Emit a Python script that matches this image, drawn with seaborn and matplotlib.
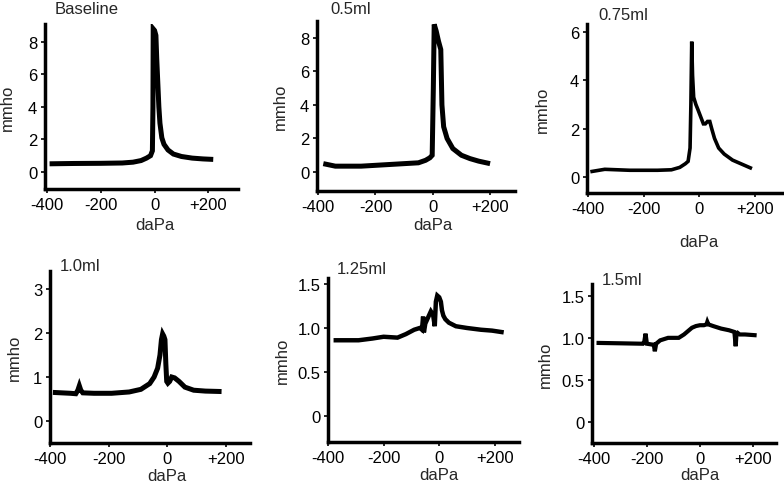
import matplotlib
matplotlib.use("Agg")
import matplotlib.pyplot as plt
import seaborn as sns
import pandas as pd

# ---- data (pressure daPa, admittance mmho) ----
titles = ["Baseline", "0.5ml", "0.75ml", "1.0ml", "1.25ml", "1.5ml"]

x_base = [-390, -300, -200, -120, -80, -50, -30, -15, -8, -6, -5, 0, 5, 8, 12, 16, 20, 27, 35, 50, 70, 100, 140, 180, 218]
y_base = [0.5, 0.52, 0.53, 0.55, 0.6, 0.7, 0.85, 1.0, 1.3, 4.0, 8.8, 8.7, 8.4, 7.0, 5.5, 4.0, 3.0, 2.1, 1.7, 1.35, 1.1, 0.95, 0.85, 0.8, 0.77]

x_05 = [-382, -340, -250, -150, -50, -25, -10, -2, 2, 5, 12, 20, 28, 32, 38, 50, 70, 100, 130, 160, 200]
y_05 = [0.5, 0.35, 0.35, 0.45, 0.55, 0.7, 0.85, 1.0, 5.0, 8.8, 8.4, 7.8, 7.3, 4.0, 2.7, 2.0, 1.4, 1.0, 0.8, 0.65, 0.5]

x_075 = [-392, -340, -250, -150, -100, -70, -50, -40, -33, -30, -27, -24, -20, -12, -5, 5, 15, 22, 30, 38, 45, 55, 70, 90, 120, 150, 190]
y_075 = [0.22, 0.32, 0.28, 0.28, 0.3, 0.4, 0.55, 0.65, 1.2, 3.0, 5.6, 4.2, 3.3, 3.0, 2.8, 2.5, 2.2, 2.2, 2.3, 2.3, 2.0, 1.6, 1.2, 0.95, 0.7, 0.55, 0.35]

x_10 = [-390, -330, -312, -305, -300, -295, -288, -250, -190, -130, -90, -60, -45, -33, -25, -20, -16, -12, -8, -5, -2, 2, 8, 15, 25, 40, 60, 90, 130, 185]
y_10 = [0.65, 0.63, 0.62, 0.7, 0.8, 0.7, 0.64, 0.63, 0.63, 0.66, 0.72, 0.85, 1.0, 1.2, 1.5, 1.85, 1.98, 1.93, 1.85, 1.3, 0.9, 0.86, 0.9, 1.0, 0.98, 0.9, 0.77, 0.7, 0.68, 0.67]

x_125 = [-380, -290, -240, -200, -150, -120, -90, -70, -62, -58, -55, -50, -40, -30, -22, -16, -12, -7, 0, 6, 10, 15, 22, 35, 60, 100, 150, 190, 232]
y_125 = [0.86, 0.86, 0.88, 0.9, 0.89, 0.93, 0.98, 1.0, 0.98, 1.13, 0.95, 1.05, 1.12, 1.19, 1.15, 1.02, 1.3, 1.37, 1.35, 1.3, 1.2, 1.14, 1.1, 1.06, 1.02, 1.0, 0.98, 0.97, 0.95]

x_15 = [-390, -300, -215, -210, -205, -200, -180, -174, -170, -165, -150, -120, -80, -60, -45, -30, -15, 0, 15, 25, 28, 32, 50, 80, 110, 130, 135, 138, 142, 150, 170, 214]
y_15 = [0.94, 0.935, 0.93, 0.95, 1.05, 0.93, 0.92, 0.92, 0.84, 0.93, 0.97, 1.0, 1.0, 1.04, 1.08, 1.12, 1.14, 1.15, 1.15, 1.16, 1.19, 1.16, 1.14, 1.11, 1.09, 1.07, 0.9, 1.05, 1.06, 1.04, 1.04, 1.03]

series = [(x_base, y_base), (x_05, y_05), (x_075, y_075), (x_10, y_10), (x_125, y_125), (x_15, y_15)]

x_ticks = [-400, -200, 0, 200]
x_ticklabels = ["-400", "-200", "0", "+200"]
y_ticks = [[0, 2, 4, 6, 8], [0, 2, 4, 6, 8], [0, 2, 4, 6], [0, 1, 2, 3], [0, 0.5, 1.0, 1.5], [0, 0.5, 1.0, 1.5]]
y_ticklabels = [["0", "2", "4", "6", "8"], ["0", "2", "4", "6", "8"], ["0", "2", "4", "6"],
                ["0", "1", "2", "3"], ["0", "0.5", "1.0", "1.5"], ["0", "0.5", "1.0", "1.5"]]

# ---- layout (pixels in the 784x489 figure) ----
W, H = 784, 489
boxes = [(45, 238, 25, 190), (317, 515, 22, 192), (587, 782, 25, 194),
         (50, 250, 272, 444), (328, 519, 279, 443), (592, 776, 285, 444)]
xlims = [(-407, 310), (-404, 287), (-404, 298), (-400, 282), (-400, 287), (-407, 287)]
ylims = [(-1.05, 9.1), (-1.13, 9.0), (-0.66, 6.33), (-0.5, 3.41), (-0.3, 1.57), (-0.25, 1.64)]
line_w = [3.6, 3.6, 2.6, 3.6, 3.2, 3.0]
title_off = [(10, 8), (13, 5), (11, 2), (10, -2), (9, 2), (10, -3)]
ylab_off = [30, 29, 37, 28, 38, 39]
xlab_off = [28, 26, 41, 25, 25, 24]
FS = 12

sns.set_style("ticks")
plt.rcParams["font.family"] = ["Liberation Sans", "DejaVu Sans"]
plt.rcParams["font.size"] = FS

fig = plt.figure(figsize=(W / 100, H / 100), dpi=100)
for i, ((l, r, t, b), (xs, ys)) in enumerate(zip(boxes, series)):
    ax = fig.add_axes([l / W, (H - b) / H, (r - l) / W, (b - t) / H])
    df = pd.DataFrame({"daPa": xs, "mmho": ys})
    sns.lineplot(data=df, x="daPa", y="mmho", sort=False, estimator=None,
                 color="black", linewidth=line_w[i], ax=ax,
                 solid_capstyle="butt", solid_joinstyle="miter")
    ax.set_xlim(*xlims[i])
    ax.set_ylim(*ylims[i])
    ax.set_xticks(x_ticks)
    ax.set_xticklabels(x_ticklabels, fontsize=FS)
    ax.set_yticks(y_ticks[i])
    ax.set_yticklabels(y_ticklabels[i], fontsize=FS)
    for s in ["top", "right"]:
        ax.spines[s].set_visible(False)
    for s in ["left", "bottom"]:
        ax.spines[s].set_linewidth(2.5)
        ax.spines[s].set_color("black")
    ax.tick_params(axis="both", length=3, width=1.2, color="black", pad=2.5, labelcolor="black")
    pw, ph = r - l, b - t
    ax.set_xlabel("daPa", fontsize=FS)
    ax.set_ylabel("mmho", fontsize=FS)
    x0frac = (0 - xlims[i][0]) / (xlims[i][1] - xlims[i][0])
    ax.xaxis.set_label_coords(x0frac, -xlab_off[i] / ph)
    ax.yaxis.set_label_coords(-ylab_off[i] / pw, 0.5)
    dx, dy = title_off[i]
    ax.annotate(titles[i], xy=(0, 1), xycoords="axes fraction",
                xytext=(dx * 0.72, dy * 0.72), textcoords="offset points",
                ha="left", va="bottom", fontsize=FS)

fig.savefig("out.png", dpi=100)
